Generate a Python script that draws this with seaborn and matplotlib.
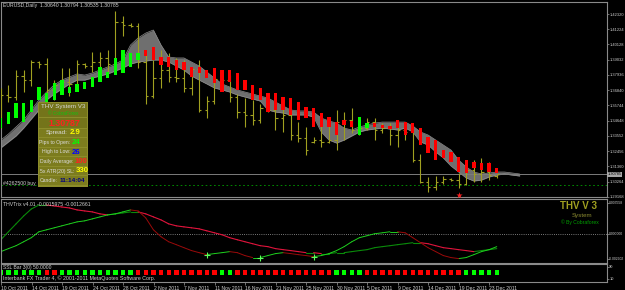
import numpy as np
import pandas as pd
import matplotlib
matplotlib.use("Agg")
import matplotlib.pyplot as plt
import seaborn as sns
from matplotlib.patches import Rectangle

sns.set_theme(style="dark", rc={"axes.facecolor": "black", "figure.facecolor": "black"})
plt.rcParams["font.family"] = ["Liberation Sans", "DejaVu Sans"]

# ---------------- data ----------------
bar_open = [1.3441, 1.3650, 1.3635, 1.3786, 1.3757, 1.3887, 1.3872, 1.3686, 1.3722, 1.3743,
            1.3729, 1.3872, 1.3858, 1.3887, 1.3916, 1.3872, 1.4174, 1.4153, 1.4146, 1.3887,
            1.3642, 1.3772, 1.3829, 1.3779, 1.3772, 1.3700, 1.3837, 1.3542, 1.3606, 1.3765,
            1.3757, 1.3635, 1.3527, 1.3506, 1.3470, 1.3556, 1.3542, 1.3484, 1.3506, 1.3362,
            1.3340, 1.3312, 1.3326, 1.3312, 1.3326, 1.3455, 1.3470, 1.3398, 1.3412, 1.3455,
            1.3398, 1.3412, 1.3362, 1.3398, 1.3384, 1.3182, 1.3024, 1.2988, 1.3024, 1.3046,
            1.3038, 1.3010, 1.3110, 1.3082, 1.3096, 1.30640]
bar_high = [1.3700, 1.3722, 1.3829, 1.3829, 1.3901, 1.3894, 1.3916, 1.3757, 1.3844, 1.3844,
            1.3901, 1.3880, 1.3959, 1.3959, 1.3973, 1.4254, 1.4218, 1.4167, 1.4167, 1.3973,
            1.3901, 1.3973, 1.3952, 1.3916, 1.3901, 1.3851, 1.3901, 1.3642, 1.3801, 1.3779,
            1.3793, 1.3657, 1.3628, 1.3614, 1.3585, 1.3571, 1.3571, 1.3556, 1.3542, 1.3455,
            1.3420, 1.3348, 1.3470, 1.3434, 1.3542, 1.3527, 1.3556, 1.3491, 1.3484, 1.3484,
            1.3448, 1.3448, 1.3470, 1.3455, 1.3412, 1.3225, 1.3060, 1.3067, 1.3067, 1.3053,
            1.3089, 1.3182, 1.3182, 1.3197, 1.3168, 1.30794]
bar_low = [1.3412, 1.3599, 1.3614, 1.3671, 1.3714, 1.3844, 1.3642, 1.3614, 1.3657, 1.3642,
           1.3686, 1.3844, 1.3815, 1.3801, 1.3786, 1.3858, 1.4074, 1.4139, 1.3844, 1.3585,
           1.3628, 1.3700, 1.3743, 1.3743, 1.3671, 1.3650, 1.3527, 1.3484, 1.3585, 1.3743,
           1.3599, 1.3484, 1.3420, 1.3434, 1.3448, 1.3527, 1.3398, 1.3384, 1.3326, 1.3312,
           1.3218, 1.3304, 1.3276, 1.3304, 1.3254, 1.3326, 1.3376, 1.3362, 1.3398, 1.3326,
           1.3376, 1.3290, 1.3276, 1.3326, 1.3168, 1.3017, 1.2952, 1.2967, 1.3010, 1.3031,
           1.2981, 1.3003, 1.3024, 1.3024, 1.3038, 1.30535]
bar_close = [1.3650, 1.3635, 1.3786, 1.3757, 1.3887, 1.3872, 1.3686, 1.3722, 1.3743, 1.3729,
             1.3872, 1.3858, 1.3887, 1.3916, 1.3872, 1.4174, 1.4153, 1.4146, 1.3887, 1.3642,
             1.3772, 1.3829, 1.3779, 1.3772, 1.3700, 1.3837, 1.3542, 1.3606, 1.3765, 1.3757,
             1.3635, 1.3527, 1.3506, 1.3470, 1.3556, 1.3542, 1.3484, 1.3506, 1.3362, 1.3340,
             1.3254, 1.3326, 1.3312, 1.3326, 1.3455, 1.3470, 1.3398, 1.3412, 1.3455, 1.3398,
             1.3412, 1.3362, 1.3398, 1.3384, 1.3182, 1.3024, 1.2988, 1.3024, 1.3046, 1.3038,
             1.3010, 1.3110, 1.3082, 1.3096, 1.3074, 1.30785]

ha_open = [1.3412, 1.3441, 1.3484, 1.3455, 1.3527, 1.3614, 1.3585, 1.3614, 1.3650, 1.3664,
           1.3671, 1.3693, 1.3707, 1.3743, 1.3772, 1.3793, 1.3808, 1.3851, 1.3901, 1.3973,
           1.3995, 1.3923, 1.3923, 1.3901, 1.3887, 1.3851, 1.3851, 1.3829, 1.3844, 1.3829,
           1.3829, 1.3808, 1.3757, 1.3722, 1.3700, 1.3664, 1.3664, 1.3635, 1.3628, 1.3599,
           1.3563, 1.3556, 1.3520, 1.3491, 1.3455, 1.3470, 1.3463, 1.3362, 1.3412, 1.3448,
           1.3434, 1.3427, 1.3470, 1.3455, 1.3448, 1.3412, 1.3348, 1.3326, 1.3254, 1.3240,
           1.3204, 1.3182, 1.3168, 1.3161, 1.3161, 1.3125]
ha_close = [1.3484, 1.3527, 1.3592, 1.3592, 1.3614, 1.3707, 1.3664, 1.3736, 1.3757, 1.3707,
            1.3729, 1.3743, 1.3779, 1.3851, 1.3815, 1.3916, 1.3973, 1.3952, 1.3952, 1.3930,
            1.3901, 1.3865, 1.3851, 1.3829, 1.3829, 1.3779, 1.3808, 1.3772, 1.3736, 1.3671,
            1.3743, 1.3686, 1.3686, 1.3614, 1.3614, 1.3527, 1.3542, 1.3542, 1.3506, 1.3470,
            1.3484, 1.3420, 1.3420, 1.3420, 1.3362, 1.3434, 1.3420, 1.3491, 1.3448, 1.3420,
            1.3412, 1.3405, 1.3412, 1.3362, 1.3376, 1.3290, 1.3233, 1.3182, 1.3197, 1.3168,
            1.3096, 1.3089, 1.3125, 1.3110, 1.3096, 1.3089]

cloud_fast = [1.3326, 1.3369, 1.3420, 1.3470, 1.3542, 1.3614, 1.3671, 1.3722, 1.3757, 1.3779,
              1.3801, 1.3793, 1.3808, 1.3829, 1.3851, 1.3872, 1.3901, 1.4009, 1.4060, 1.4095,
              1.4117, 1.4009, 1.3923, 1.3916, 1.3916, 1.3887, 1.3858, 1.3815, 1.3772, 1.3729,
              1.3707, 1.3686, 1.3671, 1.3657, 1.3642, 1.3628, 1.3599, 1.3571, 1.3542, 1.3535,
              1.3535, 1.3527, 1.3484, 1.3463, 1.3448, 1.3412, 1.3398, 1.3420, 1.3434, 1.3448,
              1.3455, 1.3455, 1.3455, 1.3455, 1.3427, 1.3384, 1.3362, 1.3326, 1.3290, 1.3254,
              1.3182, 1.3132, 1.3096, 1.3082, 1.3089, 1.3096, 1.3096, 1.3089, 1.3082]
cloud_slow = [1.3269, 1.3312, 1.3355, 1.3412, 1.3477, 1.3542, 1.3614, 1.3657, 1.3693, 1.3729,
              1.3757, 1.3757, 1.3772, 1.3786, 1.3801, 1.3822, 1.3844, 1.3872, 1.3887, 1.3894,
              1.3901, 1.3901, 1.3887, 1.3858, 1.3829, 1.3786, 1.3757, 1.3729, 1.3700, 1.3686,
              1.3671, 1.3650, 1.3635, 1.3621, 1.3606, 1.3542, 1.3527, 1.3520, 1.3506, 1.3506,
              1.3506, 1.3491, 1.3384, 1.3326, 1.3304, 1.3326, 1.3355, 1.3384, 1.3398, 1.3405,
              1.3412, 1.3405, 1.3398, 1.3412, 1.3384, 1.3312, 1.3290, 1.3240, 1.3197, 1.3139,
              1.3096, 1.3053, 1.3031, 1.3038, 1.3060, 1.3074, 1.3082, 1.3074, 1.3067]

trix_a = [-0.00072, 0.00021, 0.00113, 0.00205, 0.00286, 0.00332, 0.00332, 0.00321, 0.00309, 0.00298,
          0.00275, 0.00263, 0.00252, 0.00229, 0.00217, 0.00229, 0.00240, 0.00252, 0.00252, 0.00229,
          0.00194, 0.00159, 0.00113, 0.00090, 0.00078, 0.00067, 0.00055, 0.00032, 0.00009, -0.00014,
          -0.00048, -0.00072, -0.00095, -0.00118, -0.00141, -0.00152, -0.00175, -0.00187, -0.00198, -0.00210,
          -0.00222, -0.00222, -0.00233, -0.00233, -0.00222, -0.00222, -0.00210, -0.00198, -0.00187, -0.00164,
          -0.00152, -0.00141, -0.00129, -0.00118, -0.00106, -0.00106, -0.00118, -0.00141, -0.00164, -0.00175,
          -0.00187, -0.00198, -0.00210, -0.00198, -0.00187, -0.00175]
trix_b = [-0.00210, -0.00175, -0.00141, -0.00095, -0.00048, 0.00021, 0.00044, 0.00067, 0.00090, 0.00113,
          0.00136, 0.00148, 0.00171, 0.00194, 0.00217, 0.00229, 0.00252, 0.00275, 0.00263, 0.00182,
          0.00044, -0.00037, -0.00095, -0.00129, -0.00164, -0.00198, -0.00222, -0.00245, -0.00233, -0.00222,
          -0.00210, -0.00222, -0.00256, -0.00279, -0.00279, -0.00256, -0.00233, -0.00222, -0.00233, -0.00245,
          -0.00256, -0.00268, -0.00256, -0.00233, -0.00198, -0.00152, -0.00095, -0.00048, -0.00025, -0.00002,
          0.00009, 0.00021, 0.00021, 0.00009, -0.00048, -0.00106, -0.00164, -0.00210, -0.00256, -0.00279,
          -0.00291, -0.00279, -0.00245, -0.00210, -0.00187, -0.00152]
trix_cross_bars = [27, 34, 41]

ssl_signal = list("UUUUUU" + "DD" + "UUUUUUUUUU" + "DDDDDDDDDDD" + "UU" +
                  "DDDDDDDDDDDDD" + "UUUU" + "DDDDDDDDDDDDD" + "UUUUU")

date_ticks = [0, 4, 8, 12, 16, 20, 24, 28, 32, 36, 40, 44, 48, 52, 56, 60, 64]
date_labels = ["10 Oct 2011", "14 Oct 2011", "19 Oct 2011", "24 Oct 2011", "28 Oct 2011",
               "2 Nov 2011", "7 Nov 2011", "11 Nov 2011", "16 Nov 2011", "21 Nov 2011",
               "25 Nov 2011", "30 Nov 2011", "5 Dec 2011", "9 Dec 2011", "14 Dec 2011",
               "19 Dec 2011", "23 Dec 2011"]
price_ticks = [1.42320, 1.41224, 1.40128, 1.39032, 1.37936, 1.36840, 1.35744,
               1.34648, 1.33552, 1.32456, 1.31360, 1.30264, 1.29168]
trix_ticks = [0.003558, 0.0, -0.002902]
ssl_ticks = [90, 10]

bid_price = 1.30785
order_price = 1.3003
signal_bar, signal_price = 60, 1.2931

title_text = "EURUSD,Daily  1.30640 1.30794 1.30535 1.30785"
trix_text = "THVTrix v4.01 -0.0015975 -0.0012661"
ssl_text = "SSL Bar 3(0) 50.0000"
broker_text = "Interbank FX Trader 4, \u00a9 2001-2011 MetaQuotes Software Corp."
order_text = "#4262500 buy"
panel_rows = [("Spread:", "2.9", "#ffff00"), ("Pips to Open:", "24", "#00ff00"),
              ("High to Low:", "26", "#0000ff"), ("Daily Average:", "100", "#ff2020"),
              ("5x ATR(20) SL:", "330", "#ffff00"), ("Candle:", "11:14:04", "#000080")]

# ---------------- layout ----------------
W, H = 625, 290
fig = plt.figure(figsize=(W / 100, H / 100), dpi=100, facecolor="black")

def box(x0, y0, x1, y1):
    return [x0 / W, 1 - y1 / H, (x1 - x0) / W, (y1 - y0) / H]

def P(x, y):
    return (x / W, 1 - y / H)

ax1 = fig.add_axes(box(1, 2, 607, 197))
ax2 = fig.add_axes(box(1, 199, 607, 262.5))
ax3 = fig.add_axes(box(1, 264, 607, 282))

XL = (0.026, 79.45)
for ax, lsz in ((ax1, 2.9), (ax2, 2.4), (ax3, 2.9)):
    ax.set_facecolor("black")
    ax.set_xlim(*XL)
    for s in ax.spines.values():
        s.set_color("#8a8a8a")
        s.set_linewidth(0.8)
    ax.grid(False)
    ax.yaxis.tick_right()
    ax.tick_params(axis="y", which="both", direction="out", length=1.2, width=0.5,
                   color="#9a9a9a", labelsize=lsz, labelcolor="#cfcfcf", pad=0.4,
                   right=True, left=False, labelright=True, labelleft=False)

idx = np.arange(len(bar_open))
olive = "#a0a020"

# ---- main pane ----
cidx = np.arange(len(cloud_fast))
ax1.fill_between(cidx, cloud_fast, cloud_slow, color="#6f6f6f", lw=0, zorder=1)
sns.lineplot(x=cidx, y=cloud_fast, color="#8e8e8e", lw=0.5, ax=ax1, zorder=2)
sns.lineplot(x=cidx, y=cloud_slow, color="#8e8e8e", lw=0.5, ax=ax1, zorder=2)

ax1.vlines(idx, bar_low, bar_high, color=olive, lw=0.8, zorder=3)
ax1.hlines(bar_open, idx - 0.3, idx, color=olive, lw=0.8, zorder=3)
ax1.hlines(bar_close, idx, idx + 0.3, color=olive, lw=0.8, zorder=3)

ha_o = np.array(ha_open)
ha_c = np.array(ha_close)
ha_col = np.where(ha_c >= ha_o, "#00ff00", "#ff0000")
ha_h = np.maximum(np.abs(ha_c - ha_o), 0.0005)
ax1.bar(idx, ha_h, bottom=np.minimum(ha_o, ha_c), width=0.44, color=ha_col, lw=0, zorder=4)

ax1.axhline(bid_price, color="#7c7c7c", lw=0.7, zorder=2)
ax1.axhline(order_price, color="#00a000", lw=0.6, ls=(0, (2, 3)), zorder=2)
sns.scatterplot(x=[signal_bar], y=[signal_price], marker="*", s=22, color="#ff2020",
                linewidth=0, ax=ax1, zorder=5)
ax1.set_xticks([])
ax1.set_yticks(price_ticks)
ax1.set_yticklabels([f"{v:.5f}" for v in price_ticks])
ax1.set_ylim(1.29163, 1.43183)
ax1.set_xlim(*XL)
ax1.set_xlabel("")
ax1.set_ylabel("")
ax1.text(1.0012, bid_price, f"{bid_price:.5f}", transform=ax1.get_yaxis_transform(),
         ha="left", va="center", fontsize=2.8, color="black", clip_on=False,
         bbox=dict(facecolor="#a8a8a8", edgecolor="none", pad=0.25))

# ---- THVTrix pane ----
def segments(values, up, down):
    rows = []
    for k in range(len(values) - 1):
        c = up if values[k + 1] >= values[k] else down
        rows.append((k, k, values[k], c))
        rows.append((k, k + 1, values[k + 1], c))
    return pd.DataFrame(rows, columns=["seg", "bar", "value", "color"])

ax2.axhline(0, color="#a0a0a0", lw=0.6, ls=(0, (1, 1.6)))
dfa = segments(trix_a, "#0a8a0a", "#e0143c")
dfb = segments(trix_b, "#1ed01e", "#9a0a0a")
sns.lineplot(data=dfa, x="bar", y="value", units="seg", estimator=None, hue="color",
             palette={c: c for c in dfa["color"].unique()}, legend=False, lw=0.8, ax=ax2)
sns.lineplot(data=dfb, x="bar", y="value", units="seg", estimator=None, hue="color",
             palette={c: c for c in dfb["color"].unique()}, legend=False, lw=0.7, ax=ax2)
sns.scatterplot(x=trix_cross_bars, y=[trix_b[i] for i in trix_cross_bars], marker="+",
                s=14, color="#5cff5c", linewidth=0.8, ax=ax2, zorder=5)
ax2.set_xticks([])
ax2.set_ylim(-0.003364, 0.004020)
ax2.set_yticks(trix_ticks)
ax2.set_yticklabels([f"{v:.6f}" for v in trix_ticks])
ax2.set_xlim(*XL)
ax2.set_xlabel("")
ax2.set_ylabel("")

# ---- SSL pane ----
sns.scatterplot(x=idx, y=[50] * len(idx), hue=ssl_signal,
                palette={"U": "#00ff00", "D": "#ff0000"}, marker="s", s=10,
                linewidth=0, legend=False, ax=ax3)
ax3.set_ylim(-13.4, 108.6)
ax3.set_yticks(ssl_ticks)
ax3.set_yticklabels([str(v) for v in ssl_ticks])
ax3.set_xlim(*XL)
ax3.set_xticks(date_ticks)
ax3.set_xticklabels(date_labels)
ax3.tick_params(axis="x", direction="out", length=2.5, width=0.5, color="#9a9a9a",
                labelsize=3.6, labelcolor="#cfcfcf", pad=0.3, bottom=True)
for lab in ax3.get_xticklabels():
    lab.set_ha("left")
ax3.set_xlabel("")
ax3.set_ylabel("")

# ---------------- texts ----------------
tc = "#cfcfcf"
fig.text(*P(3, 5.5), title_text, fontsize=3.7, color=tc, va="center", ha="left")
fig.text(*P(3, 183), order_text, fontsize=3.7, color=tc, va="center", ha="left")
fig.text(*P(3, 204), trix_text, fontsize=3.7, color=tc, va="center", ha="left")
fig.text(*P(3, 268), ssl_text, fontsize=3.6, color=tc, va="center", ha="left")
fig.text(*P(3, 278.3), broker_text, fontsize=3.8, color=tc, va="center", ha="left")
fig.text(*P(578, 206), "THV V 3", fontsize=7, weight="bold", color="#a0a020",
         va="center", ha="center")
fig.text(*P(582, 215), "System", fontsize=4.4, color="#8c8c30", va="center", ha="center")
fig.text(*P(580, 222.5), "\u00a9 By Cobraforex", fontsize=3.6, color="#00a000",
         va="center", ha="center")

# info panel
def rect(x0, y0, x1, y1, color):
    fig.add_artist(Rectangle(P(x0, y1), (x1 - x0) / W, (y1 - y0) / H,
                             transform=fig.transFigure, facecolor=color,
                             edgecolor="none", zorder=6))

rect(38, 102, 88, 187, "#8c8c2a")
rect(39, 103, 87, 117, "#74741a")
rect(39, 118, 87, 128, "#74741a")
row_y = [133, 142.5, 152, 161.5, 171, 180.5]
for yc in row_y:
    rect(39, yc - 4.3, 87, yc + 4.3, "#7c7c1e")
fig.text(*P(63, 106.5), "THV System V3", fontsize=4.5, color="#d6d6d6",
         ha="center", va="center", zorder=7)
fig.text(*P(63, 113.5), "\u00a9 CobraForex", fontsize=3.4, color="#10c010",
         ha="center", va="center", zorder=7)
fig.text(*P(64, 123), "1.30787", fontsize=6.3, weight="bold", color="#ff2020",
         ha="center", va="center", zorder=7)
label_x = [68, 70, 70, 73, 74, 58]
for (lab, val, col), yc, lx in zip(panel_rows, row_y, label_x):
    fs = 4.5 if lab == "Spread:" else 3.7
    fig.text(*P(lx, yc), lab, fontsize=fs, color="#dcdcdc", ha="right", va="center", zorder=7)
    vfs = 4.6 if lab == "Candle:" else 5.6
    fig.text(*P(lx + 1.5, yc), val, fontsize=vfs, weight="bold", color=col,
             ha="left", va="center", zorder=7)

fig.savefig("out.png", dpi=100, facecolor="black")
